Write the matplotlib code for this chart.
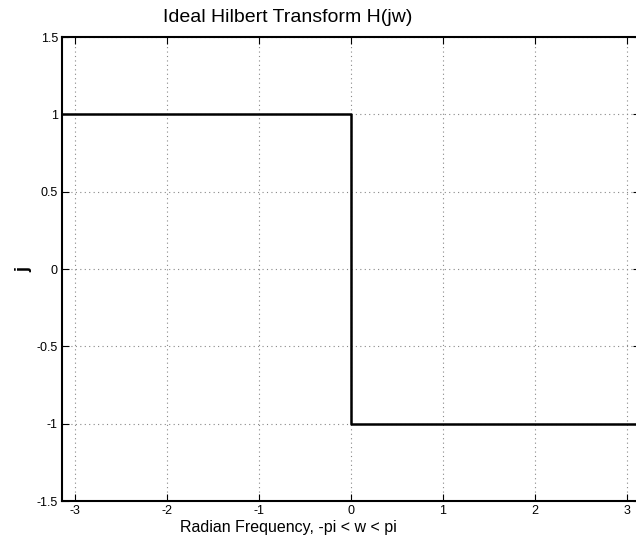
import numpy as np
import matplotlib.pyplot as plt

plt.rcParams['font.family'] = ['Liberation Sans', 'DejaVu Sans']

# frequency breakpoints and response
w = [-np.pi, 0, 0, np.pi]
h = [1, 1, -1, -1]
xticks = [-3, -2, -1, 0, 1, 2, 3]
yticks = [-1.5, -1, -0.5, 0, 0.5, 1, 1.5]

fig = plt.figure(figsize=(6.36, 5.49), dpi=100)
ax = fig.add_axes([62 / 636, 48 / 549, 578 / 636, 464 / 549])

ax.plot(w, h, color='black', linewidth=1.8)
ax.set_xlim(-np.pi, np.pi)
ax.set_ylim(-1.5, 1.5)
ax.set_xticks(xticks)
ax.set_yticks(yticks)
ax.set_xticklabels([str(t) for t in xticks])
ax.set_yticklabels(['-1.5', '-1', '-0.5', '0', '0.5', '1', '1.5'])
ax.tick_params(direction='in', top=True, right=True, length=5, width=0.8,
               labelsize=9, pad=3)
ax.grid(True, linestyle=(0, (1, 3)), color='#888888', linewidth=0.8)
for s in ax.spines.values():
    s.set_linewidth(1.5)

# labels are centred on the visible part of the figure, not the axes
cx = (288 - 62) / 578
t = ax.set_title('Ideal Hilbert Transform H(jw)', fontsize=14, pad=11)
t.set_x(cx)
ax.set_xlabel('Radian Frequency, -pi < w < pi', fontsize=11.5, labelpad=2, x=cx)
ax.set_ylabel('j', fontsize=13, fontweight='bold')
ax.yaxis.set_label_coords(-30 / 578, 0.5)

fig.savefig('out.png', dpi=100)
